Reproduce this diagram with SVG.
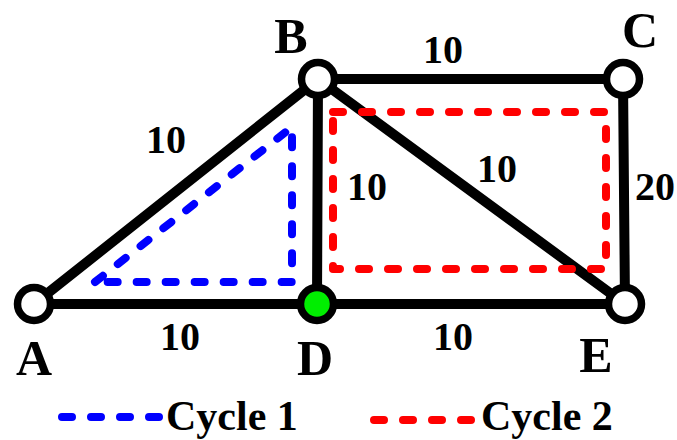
<svg xmlns="http://www.w3.org/2000/svg" width="677" height="440" viewBox="0 0 677 440">
<style>
.edge{stroke:#000;stroke-width:10;stroke-linecap:round;fill:none}
.node{fill:#fff;stroke:#000;stroke-width:7.5}
.cyc{fill:none;stroke-width:8;stroke-linecap:round;stroke-linejoin:round;stroke-dasharray:10 19}
.lbl{font-family:"Liberation Serif","Times New Roman",serif;font-weight:bold;font-size:50px;text-anchor:middle;fill:#000}
.w{font-family:"Liberation Serif","Times New Roman",serif;font-weight:bold;font-size:40px;text-anchor:middle;fill:#000}
.leg{font-family:"Liberation Serif","Times New Roman",serif;font-weight:bold;font-size:42px;fill:#000}
</style>
<rect width="677" height="440" fill="#fff"/>
<g id="connectors">
<line class="edge" x1="34" y1="304" x2="318" y2="79"/>
<line class="edge" x1="318" y1="79" x2="623" y2="79"/>
<line class="edge" x1="318" y1="79" x2="317" y2="304"/>
<line class="edge" x1="318" y1="79" x2="625" y2="304"/>
<line class="edge" x1="623" y1="79" x2="625" y2="304"/>
<line class="edge" x1="34" y1="304" x2="625" y2="304"/>
<path class="cyc" stroke="#0000ff" d="M95 282 L292 127 L292 282 Z"/>
<path class="cyc" stroke="#ff0000" d="M333 112 L606 112 L606 269 L333 269 Z"/>
<text class="w" x="166" y="153">10</text>
<text class="w" x="443" y="63">10</text>
<text class="w" x="367" y="200">10</text>
<text class="w" x="497" y="182">10</text>
<text class="w" x="655" y="200">20</text>
<text class="w" x="180" y="350">10</text>
<text class="w" x="453" y="350">10</text>
</g>
<g id="A"><circle class="node" cx="34" cy="304" r="16.5"/><text class="lbl" x="34" y="375">A</text></g>
<g id="B"><circle class="node" cx="318" cy="79" r="16.5"/><text class="lbl" x="291" y="53">B</text></g>
<g id="C"><circle class="node" cx="623" cy="79" r="16.5"/><text class="lbl" x="640" y="47">C</text></g>
<g id="D"><circle class="node" cx="317" cy="304" r="16.5" style="fill:#00ee00"/><text class="lbl" x="315" y="375">D</text></g>
<g id="E"><circle class="node" cx="625" cy="304" r="16.5"/><text class="lbl" x="596" y="372">E</text></g>
<g id="legend">
<line class="cyc" stroke="#0000ff" x1="62" y1="417" x2="160" y2="417"/>
<text class="leg" x="166" y="430">Cycle 1</text>
<line class="cyc" stroke="#ff0000" x1="374" y1="420" x2="473" y2="420"/>
<text class="leg" x="481" y="430">Cycle 2</text>
</g>
</svg>
